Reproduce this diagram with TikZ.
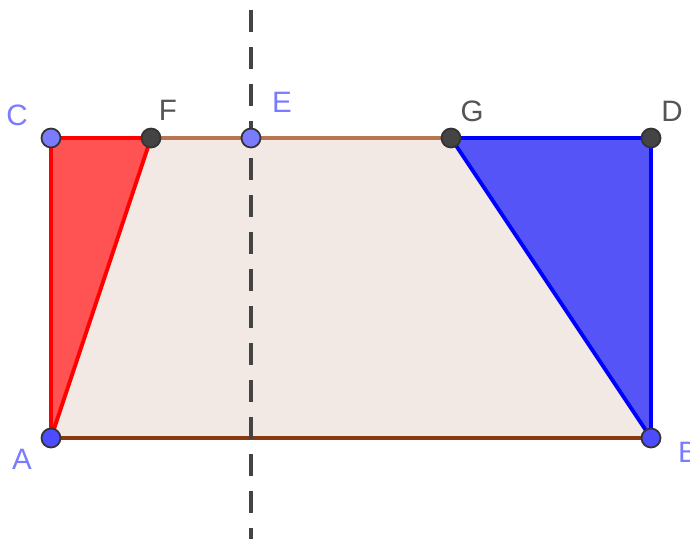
\documentclass[tikz,border=0pt]{standalone}
\usepackage{fontspec}
\setmainfont{Liberation Sans}
\usetikzlibrary{positioning}

\definecolor{freept}{HTML}{7B7BFF}
\definecolor{freeptdark}{HTML}{4D4DFF}
\definecolor{deppt}{HTML}{444444}
\definecolor{deplbl}{HTML}{555555}
\definecolor{trapfill}{HTML}{F2E9E4}
\definecolor{topedge}{HTML}{B8754F}
\definecolor{botedge}{HTML}{8B3A10}
\definecolor{redfill}{HTML}{FF5252}
\definecolor{bluefill}{HTML}{5555F7}

\begin{document}
\begin{tikzpicture}[
    pt/.style={circle, draw=black!80, line width=0.5pt, inner sep=0pt, minimum size=0.19cm},
    lbl/.style={font=\fontsize{8.4}{9}\selectfont, inner sep=0pt},
    edge/.style={line width=1.1pt, line join=round}
]
\useasboundingbox (0,0) rectangle (6.9,5.39);

\coordinate (A) at (0.51,1.01);
\coordinate (B) at (6.51,1.01);
\coordinate (C) at (0.51,4.01);
\coordinate (D) at (6.51,4.01);
\coordinate (F) at (1.51,4.01);
\coordinate (E) at (2.51,4.01);
\coordinate (G) at (4.51,4.01);
\coordinate (axtop) at (2.51,5.29);
\coordinate (axbot) at (2.51,0);

% trapezoid
\fill[trapfill] (A) -- (F) -- (G) -- (B) -- cycle;
\draw[edge, topedge] (F) -- (G);
\draw[edge, botedge] (A) -- (B);

% triangles
\filldraw[edge, draw=red, fill=redfill] (A) -- (C) -- (F) -- cycle;
\filldraw[edge, draw=blue, fill=bluefill] (G) -- (D) -- (B) -- cycle;

% symmetry axis
\draw[line width=1.1pt, deppt, dash pattern=on 0.22cm off 0.15cm] (axtop) -- (axbot);

% points
\node[pt, fill=freeptdark] (ptA) at (A) {};
\node[pt, fill=freeptdark] (ptB) at (B) {};
\node[pt, fill=freept] (ptC) at (C) {};
\node[pt, fill=freept] (ptE) at (E) {};
\node[pt, fill=deppt] (ptF) at (F) {};
\node[pt, fill=deppt] (ptG) at (G) {};
\node[pt, fill=deppt] (ptD) at (D) {};

% labels
\node[lbl, text=freept] (labA) at (0.22,0.80) {A};
\node[lbl, text=freept] (labB) at (6.88,0.87) {B};
\node[lbl, text=freept] (labC) at (0.17,4.24) {C};
\node[lbl, text=freept] (labE) at (2.82,4.37) {E};
\node[lbl, text=deplbl] (labF) at (1.68,4.29) {F};
\node[lbl, text=deplbl] (labG) at (4.72,4.28) {G};
\node[lbl, text=deplbl] (labD) at (6.72,4.28) {D};
\end{tikzpicture}
\end{document}
